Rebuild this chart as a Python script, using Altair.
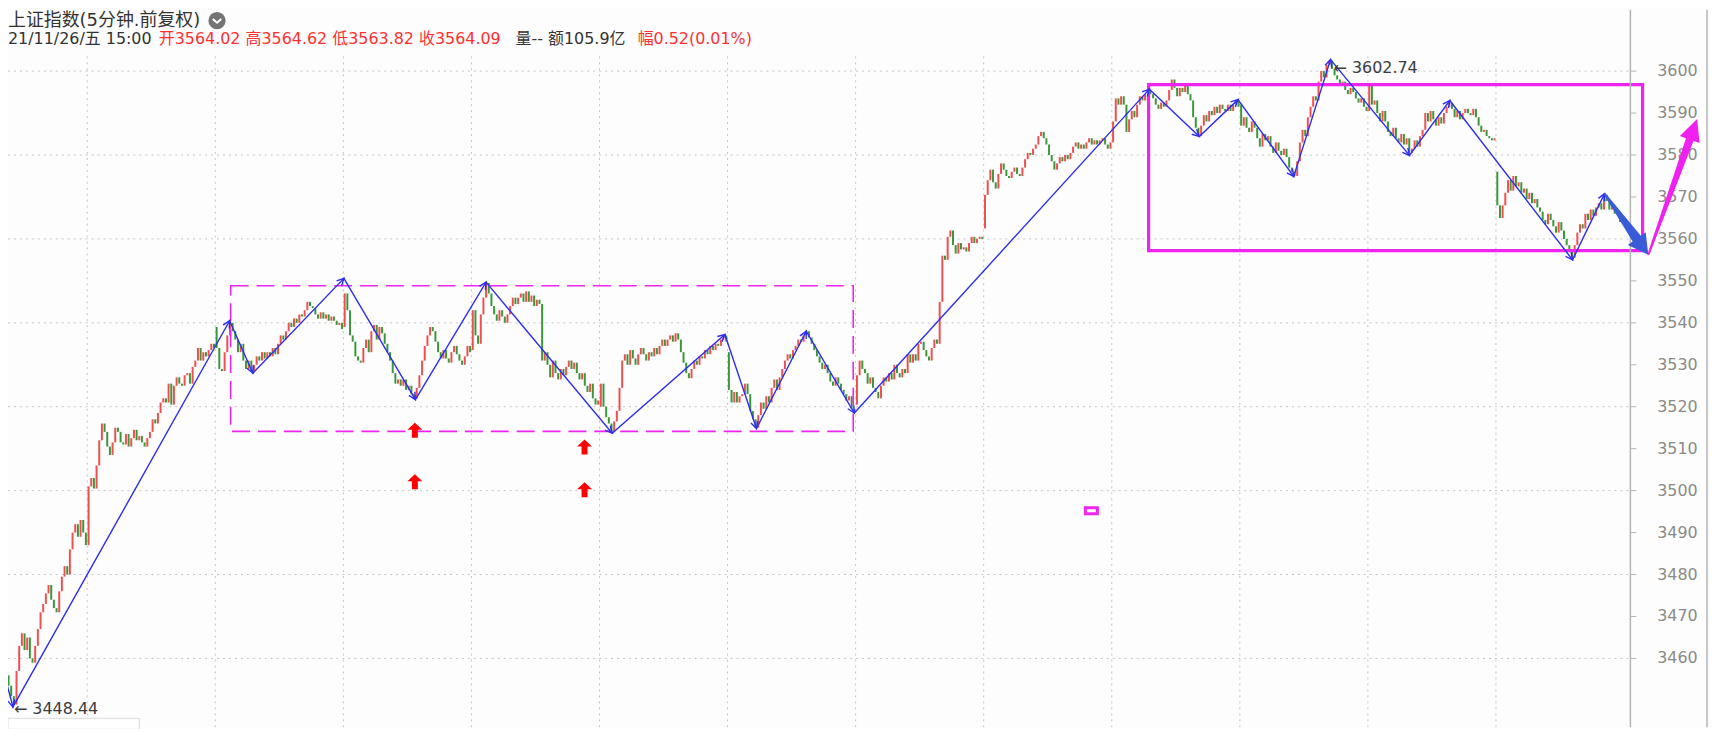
import math
import altair as alt
import pandas as pd

# ---------------- values ----------------
# 5-minute bars of 13 trading days (the first day only partly visible).
# Open of the first bar of each day; every other bar opens at the previous close.
day_opens = [3465, 3487, 3539, 3539, 3533.5, 3520, 3533, 3520.5, 3562.5, 3583, 3592, 3590.5, 3576]

closes_d00 = [3461, 3458, 3456, 3453.5, 3451, 3449, 3457, 3463, 3466, 3462, 3465,
              3460, 3459, 3463, 3467, 3471, 3473, 3475.5, 3477.5, 3474, 3472, 3471,
              3476, 3479.5, 3482, 3480, 3486, 3490, 3492, 3489, 3493, 3490, 3487]
closes_d01 = [3501, 3503, 3500.5, 3506, 3512, 3516, 3514, 3510.5, 3508.5, 3511.5, 3515, 3514,
              3511.5, 3511, 3513.5, 3510.5, 3512.5, 3514.5, 3512, 3513, 3511.5, 3510.5, 3512.5, 3514,
              3517, 3516, 3518.5, 3521, 3522, 3521, 3525.5, 3520.5, 3525, 3527, 3525.5, 3525,
              3527.5, 3528, 3525.5, 3529.5, 3531, 3534, 3531, 3533, 3532, 3533.5, 3535, 3534]
closes_d02 = [3534, 3529, 3528.5, 3533, 3537, 3540, 3538, 3536, 3533, 3535, 3531, 3529,
              3531, 3528.5, 3530, 3532, 3531, 3533, 3531.5, 3533, 3532, 3534, 3532.5, 3535,
              3537, 3536, 3538, 3540, 3539, 3541, 3540, 3542, 3541.5, 3543, 3545, 3544,
              3543.5, 3542, 3541, 3542.5, 3541, 3542, 3540.5, 3541.5, 3540.5, 3539.5, 3540, 3538.5]
closes_d03 = [3547, 3543, 3537, 3535.5, 3532, 3531, 3530.5, 3534, 3536, 3533, 3538, 3539.5,
              3536, 3539, 3537.5, 3535, 3533, 3531, 3528, 3525.5, 3526.5, 3525, 3526.5, 3524,
              3525, 3523, 3522, 3524.5, 3527.5, 3531, 3534.5, 3537, 3539, 3538, 3535.5, 3533,
              3531.5, 3533.5, 3531.5, 3530.5, 3533, 3534.5, 3532.5, 3531, 3530, 3532, 3534.5, 3533]
closes_d04 = [3543, 3537, 3535, 3542, 3546, 3549.5, 3547, 3544, 3542, 3540.5, 3543, 3541.5,
              3540, 3542, 3544, 3546, 3544.5, 3546, 3547, 3545, 3547.5, 3545, 3546.5, 3544,
              3545.5, 3544.5, 3531, 3533, 3530, 3527, 3531, 3528, 3526.5, 3529, 3527.5, 3529.5,
              3531, 3529, 3530.5, 3528, 3526.5, 3528, 3525, 3523.5, 3525.5, 3522, 3520.5, 3521.5]
closes_d05 = [3525.5, 3520, 3517.5, 3516, 3514, 3516.5, 3519, 3524.5, 3531, 3532.5, 3530, 3533.5,
              3531.5, 3530, 3532.5, 3534, 3532.5, 3531, 3533, 3532, 3534, 3532.5, 3534.5, 3536,
              3534.5, 3536, 3537, 3535.5, 3537.5, 3536, 3533, 3530.5, 3528, 3526.8, 3529, 3531,
              3530, 3532, 3531.5, 3533.5, 3532.5, 3534.5, 3533.5, 3535, 3534.5, 3536, 3537, 3535.5]
closes_d06 = [3524, 3521, 3523.5, 3521, 3522.5, 3523, 3525.5, 3523, 3519, 3517, 3515, 3518,
              3521, 3519.5, 3522.5, 3521, 3524.5, 3526.5, 3524, 3527, 3529, 3531, 3532.5, 3531.5,
              3533.5, 3534.5, 3536, 3535.5, 3537, 3538, 3536.5, 3535, 3533.5, 3532, 3530.5, 3529,
              3530, 3528, 3526, 3525, 3527, 3525.5, 3524, 3523, 3521.5, 3522.5, 3519.5, 3518.8]
closes_d07 = [3527.5, 3531, 3529, 3528, 3525.5, 3527, 3524.5, 3523.5, 3522, 3525, 3527, 3526,
              3528, 3526.5, 3530, 3528, 3527, 3529, 3528, 3532.5, 3530.5, 3532.5, 3531, 3535,
              3535.5, 3533.5, 3532, 3531, 3534, 3536, 3535, 3545, 3556, 3555, 3560.5, 3562,
              3558.5, 3556.5, 3559, 3557.5, 3558, 3557, 3559, 3560.5, 3559, 3560, 3560.5, 3560]
closes_d08 = [3570.5, 3574, 3576.5, 3573.5, 3572, 3575.5, 3578, 3576.5, 3575, 3574.5, 3576, 3577,
              3575.5, 3575, 3577, 3579, 3580.5, 3580, 3581.5, 3582.5, 3584.5, 3585.5, 3584, 3582.5,
              3580, 3578.5, 3576.5, 3578, 3579.5, 3578.5, 3580, 3579, 3580.5, 3582, 3583, 3581.5,
              3582.5, 3581.5, 3583, 3584, 3582.5, 3583.5, 3582.5, 3583.5, 3584, 3582.5, 3581.5, 3583]
closes_d09 = [3588, 3593.5, 3592, 3594, 3592, 3585.5, 3588.5, 3590.5, 3589, 3592, 3594, 3593,
              3594.5, 3595.5, 3594.5, 3593.5, 3592, 3591, 3592.5, 3591.5, 3593, 3595.5, 3598, 3596,
              3594, 3596, 3595, 3596.5, 3594.5, 3593, 3589, 3586.5, 3584.5, 3587, 3589.5, 3588,
              3590.5, 3589.5, 3591.5, 3590, 3592, 3591, 3590.5, 3592, 3590.5, 3592, 3593, 3591.5]
closes_d10 = [3587, 3589, 3586.5, 3585.5, 3588, 3586.5, 3584, 3582, 3585, 3583.5, 3584.5, 3582,
              3580.5, 3583, 3581, 3580, 3581.5, 3579.5, 3577, 3576, 3575, 3578.5, 3583, 3586,
              3584.5, 3589, 3591.5, 3594, 3593, 3597.5, 3600, 3598.5, 3601.5, 3602.5, 3600.5, 3599,
              3598, 3596.5, 3597.5, 3595.5, 3594.5, 3596, 3595, 3593.5, 3592.5, 3593.5, 3591.5, 3590.5]
closes_d11 = [3596.5, 3592, 3593, 3590, 3588, 3590.5, 3588, 3585.5, 3584.5, 3586.5, 3584, 3583,
              3585, 3582.5, 3584, 3580.5, 3581.5, 3583.5, 3582, 3584.5, 3586, 3590, 3588, 3590.5,
              3588.5, 3587, 3589, 3587.5, 3590, 3591.5, 3592.5, 3591, 3589, 3590.5, 3588.5, 3590,
              3591, 3590, 3589.5, 3591, 3589, 3587, 3585.5, 3586, 3584.5, 3584, 3583.5, 3584]
closes_d12 = [3568, 3565, 3568, 3571, 3574, 3571.5, 3575, 3572.5, 3573.5, 3571, 3572, 3569.5,
              3571, 3568.5, 3569.5, 3567.5, 3566.5, 3564.5, 3563.5, 3566, 3564.5, 3563, 3561.5, 3564,
              3562, 3560, 3558.5, 3557, 3555.5, 3558.5, 3561.5, 3563.5, 3562.5, 3566, 3564.5, 3567,
              3565.5, 3567.5, 3568.5, 3567, 3570.5, 3569, 3567, 3568, 3566, 3566.5, 3564.02, 3564.09]
day_closes = [closes_d00, closes_d01, closes_d02, closes_d03, closes_d04, closes_d05, closes_d06,
              closes_d07, closes_d08, closes_d09, closes_d10, closes_d11, closes_d12]

# hand-drawn zigzag (bar position, index value)
pivot_bar = [0.0, 4.67, 85.88, 94.58, 128.71, 155.5, 181.98, 229.25, 271.5, 283.34, 301.99,
             320.0, 430.6, 449.3, 463.8, 484.7, 498.5, 528.1, 543.2, 589.2, 601.2]
pivot_val = [3459.6, 3448.44, 3540.5, 3528, 3550.6, 3521.7, 3549.7, 3513.7, 3537.2, 3514.8, 3538,
             3518.5, 3595.7, 3584.4, 3593.2, 3574.9, 3602.74, 3579.9, 3593, 3555, 3570.8]

# bold arrows at the right end (start, turn, end)
bold_bar = [601.2, 617.6, 635.9]
bold_val = [3570.8, 3556.2, 3588.6]

# boxes: bar from, bar to, value top, value bottom
dash_box = [86.26, 319.6, 3548.85, 3514.12]
solid_box = [430.3, 615.45, 3596.77, 3557.22]
small_box = [406.6, 411.1, 3495.9, 3494.5]

# red up-arrow markers
marker_bar = [155.3, 155.3, 218.9, 218.9]
marker_val = [3514.4, 3502.1, 3510.4, 3500.2]

# extreme value labels
ext_text = ["← 3448.44", "← 3602.74"]
ext_bar = [4.67, 498.5]
ext_val = [3448.44, 3602.74]

y_ticks = [3460, 3470, 3480, 3490, 3500, 3510, 3520, 3530, 3540, 3550, 3560, 3570, 3580, 3590, 3600]
grid_vals = [3460, 3480, 3500, 3520, 3540, 3560, 3580, 3600]

title_text = "上证指数(5分钟.前复权)"
info_parts = ["21/11/26/五 15:00", "开3564.02 高3564.62 低3563.82 收3564.09", "量-- 额105.9亿", "幅0.52(0.01%)"]

# ---------------- layout / style ----------------
W, H = 1630, 721
PXB = 2.6806          # px per bar
PXV = 4.215           # px per index point
X0 = 32.5 - 79.6 / PXB
X1 = X0 + W / PXB
YTOP = 3600 + 61.7 / PXV
YBOT = YTOP - H / PXV
xs = alt.Scale(domain=[X0, X1], nice=False, zero=False)
ys = alt.Scale(domain=[YBOT, YTOP], nice=False, zero=False)

RED, GREEN = "#ee5050", "#3a983a"
BLUE = "#2c2cf2"
MAG = "#f024f0"
FONT = "DejaVu Sans, Noto Sans CJK SC"
AXIS_GREY = "#b4b4b4"

# candles
rows = []
i = 0
for d, closes in enumerate(day_closes):
    prev = day_opens[d]
    for c in closes:
        rows.append({"i": i, "o": prev, "c": c, "col": RED if c >= prev else GREEN})
        prev = c
        i += 1
candles = pd.DataFrame(rows)

# day separators from the day lengths
breaks = []
n = 0
for closes in day_closes[:-1]:
    n += len(closes)
    breaks.append(n - 0.5)

X = lambda f: alt.X(f, scale=xs, axis=None)
Y = lambda f: alt.Y(f, scale=ys, axis=None)

hgrid = alt.Chart(pd.DataFrame({"v": grid_vals})).mark_rule(
    color="#c4c4c4", strokeWidth=1, strokeDash=[2, 4]
).encode(y=Y("v:Q"), x=alt.value(0), x2=alt.value(W))

vgrid = alt.Chart(pd.DataFrame({"b": breaks, "top": [3603.5] * len(breaks)})).mark_rule(
    color="#c4c4c4", strokeWidth=1, strokeDash=[2, 4]
).encode(x=X("b:Q"), y=Y("top:Q"), y2=alt.value(H))

# price axis on the right, drawn with marks
tick_df = pd.DataFrame({"v": y_ticks, "t": [str(v) for v in y_ticks]})
axis_ticks = alt.Chart(tick_df).mark_rule(color=AXIS_GREY, strokeWidth=1).encode(
    y=Y("v:Q"), x=alt.value(W), x2=alt.value(W + 6))
axis_labels = alt.Chart(tick_df).mark_text(
    align="left", baseline="middle", font="DejaVu Sans", fontSize=16, color="#8a8a8a"
).encode(y=Y("v:Q"), x=alt.value(W + 27), text="t:N")
one = pd.DataFrame({"a": [0]})
axis_line = alt.Chart(one).mark_rule(color=AXIS_GREY, strokeWidth=1.5).encode(
    x=alt.value(W), y=alt.value(0), y2=alt.value(H))
edge = alt.Chart(one).mark_rule(color=AXIS_GREY, strokeWidth=1.5).encode(
    x=alt.value(1707), y=alt.value(0), y2=alt.value(H))
# small overlay panel at the bottom-left corner
corner = alt.Chart(one).mark_rect(fill="#ffffff", stroke="#dcdcdc", strokeWidth=1).encode(
    x=alt.value(0), x2=alt.value(132), y=alt.value(712), y2=alt.value(H + 2))

candle_layer = alt.Chart(candles).mark_rule(strokeWidth=2).encode(
    x=X("i:Q"), y=Y("o:Q"), y2="c:Q", color=alt.Color("col:N", scale=None)
)


def box(b, width, dash=None):
    df = pd.DataFrame({"b1": [b[0]], "b2": [b[1]], "v1": [b[2]], "v2": [b[3]]})
    kw = dict(fillOpacity=0, stroke=MAG, strokeWidth=width)
    if dash:
        kw["strokeDash"] = dash
    return alt.Chart(df).mark_rect(**kw).encode(x=X("b1:Q"), x2="b2:Q", y=Y("v1:Q"), y2="v2:Q")

dash_layer = box(dash_box, 1.6, [18, 8])
solid_layer = box(solid_box, 3.2)
small_layer = box(small_box, 3)

zz = pd.DataFrame({"b": pivot_bar, "v": pivot_val, "k": list(range(len(pivot_bar)))})
zig_layer = alt.Chart(zz).mark_line(color=BLUE, strokeWidth=1.4).encode(
    x=X("b:Q"), y=Y("v:Q"), order="k:Q"
)

heads = []
for k in range(1, len(pivot_bar)):
    dx = (pivot_bar[k] - pivot_bar[k - 1]) * PXB
    dy = -(pivot_val[k] - pivot_val[k - 1]) * PXV
    heads.append({"b": pivot_bar[k], "v": pivot_val[k], "ang": math.degrees(math.atan2(dy, dx)) % 360})
head_layer = alt.Chart(pd.DataFrame(heads)).mark_point(
    shape="M-1,-0.5L0,0L-1,0.5", size=196, filled=False, color=BLUE, strokeWidth=1.4, opacity=1
).encode(x=X("b:Q"), y=Y("v:Q"), angle=alt.Angle("ang:Q", scale=None))


def arrow_path(b1, v1, b2, v2, w0, w1, wh, hl):
    dx = (b2 - b1) * PXB
    dy = -(v2 - v1) * PXV
    L = math.hypot(dx, dy)
    ux, uy = dx / L, dy / L
    nx, ny = -uy, ux
    m = L - hl
    pts = [(nx * w0, ny * w0), (ux * m + nx * w1, uy * m + ny * w1), (ux * m + nx * wh, uy * m + ny * wh),
           (ux * L, uy * L), (ux * m - nx * wh, uy * m - ny * wh), (ux * m - nx * w1, uy * m - ny * w1),
           (-nx * w0, -ny * w0)]
    return "M" + "L".join(f"{x:.2f},{y:.2f}" for x, y in pts) + "Z"


def bold_arrow(k, color, w0, w1, wh, hl):
    path = arrow_path(bold_bar[k], bold_val[k], bold_bar[k + 1], bold_val[k + 1], w0, w1, wh, hl)
    df = pd.DataFrame({"b": [bold_bar[k]], "v": [bold_val[k]]})
    return alt.Chart(df).mark_point(shape=path, size=4, filled=True, color=color, opacity=1,
                                    strokeWidth=0).encode(x=X("b:Q"), y=Y("v:Q"))

blue_bold = bold_arrow(0, "#3a5bd8", 1, 5, 11, 20)
mag_bold = bold_arrow(1, "#f020f0", 1, 4, 10.5, 22)

marker_layer = alt.Chart(pd.DataFrame({"b": marker_bar, "v": marker_val})).mark_point(
    shape="M0,-7.5L7.5,-0.5L3,-0.5L3,7.5L-3,7.5L-3,-0.5L-7.5,-0.5Z",
    size=4, filled=True, color="#ff0000", opacity=1, strokeWidth=0
).encode(x=X("b:Q"), y=Y("v:Q"))

ext_layers = []
for t, b, v, dx, dy in zip(ext_text, ext_bar, ext_val, [1, 3], [2, 8]):
    ext_layers.append(
        alt.Chart(pd.DataFrame({"t": [t], "b": [b], "v": [v]})).mark_text(
            align="left", baseline="middle", font=FONT, fontSize=16, color="#3c3c3c", dx=dx, dy=dy
        ).encode(x=X("b:Q"), y=Y("v:Q"), text="t:N")
    )


def label(text, px, py, color, size):
    return alt.Chart(pd.DataFrame({"t": [text]})).mark_text(
        align="left", baseline="middle", font=FONT, fontSize=size, color=color
    ).encode(x=alt.value(px), y=alt.value(py), text="t:N")

header = [
    label(title_text, 0, 11, "#333333", 18),
    label(info_parts[0], 0, 29.5, "#333333", 16),
    label(info_parts[1], 151.5, 29.5, "#ff3030", 16),
    label(info_parts[2], 510, 29.5, "#333333", 16),
    label(info_parts[3], 632.6, 29.5, "#ff3030", 16),
]
icon = alt.Chart(one).mark_point(shape="circle", size=300, filled=True, color="#747474", opacity=1).encode(
    x=alt.value(210), y=alt.value(11))
icon2 = alt.Chart(one).mark_point(shape="M-1,-0.4L0,0.5L1,-0.4", size=72, filled=False, color="white",
                                  strokeWidth=2, opacity=1).encode(x=alt.value(210), y=alt.value(11))

chart = alt.layer(
    hgrid, vgrid, candle_layer, dash_layer, solid_layer, small_layer, zig_layer, head_layer,
    axis_line, axis_ticks, axis_labels, edge, corner,
    blue_bold, mag_bold, marker_layer, *ext_layers, *header, icon, icon2
).properties(
    width=W, height=H,
    autosize=alt.AutoSizeParams(type="none"),
    padding={"left": 0, "top": 0, "right": 80, "bottom": 0},
    background="#fdfdfd",
).configure_view(stroke=None)

chart.save("out.html", embed_options={"renderer": "svg", "actions": False})
